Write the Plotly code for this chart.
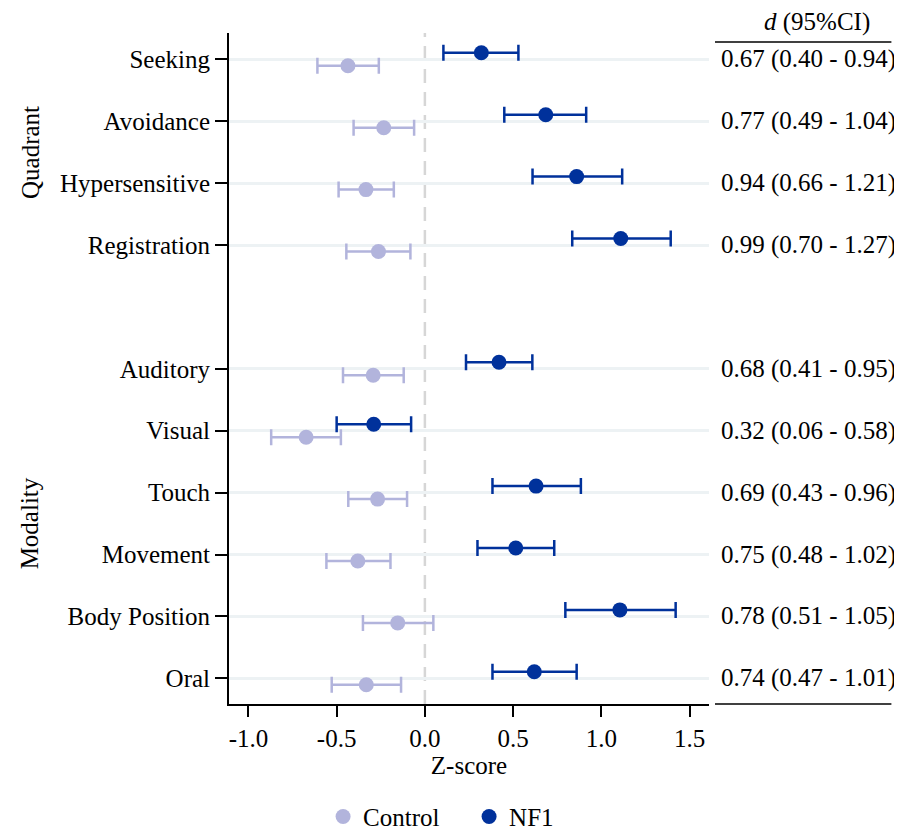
import plotly.graph_objects as go

# ---------------- data ----------------
quadrant = ["Seeking", "Avoidance", "Hypersensitive", "Registration"]
modality = ["Auditory", "Visual", "Touch", "Movement", "Body Position", "Oral"]

nf1_mean = [0.32, 0.685, 0.86, 1.11, 0.42, -0.29, 0.63, 0.515, 1.105, 0.62]
nf1_lo   = [0.105, 0.45, 0.61, 0.835, 0.233, -0.50, 0.383, 0.298, 0.796, 0.383]
nf1_hi   = [0.53, 0.914, 1.118, 1.393, 0.609, -0.078, 0.884, 0.733, 1.421, 0.86]

ctrl_mean = [-0.436, -0.233, -0.334, -0.263, -0.293, -0.673, -0.268, -0.380, -0.154, -0.332]
ctrl_lo   = [-0.609, -0.404, -0.489, -0.445, -0.464, -0.871, -0.434, -0.558, -0.351, -0.528]
ctrl_hi   = [-0.261, -0.061, -0.176, -0.082, -0.120, -0.476, -0.101, -0.195, 0.048, -0.135]

d_ci = ["0.67 (0.40 - 0.94)", "0.77 (0.49 - 1.04)", "0.94 (0.66 - 1.21)", "0.99 (0.70 - 1.27)",
        "0.68 (0.41 - 0.95)", "0.32 (0.06 - 0.58)", "0.69 (0.43 - 0.96)", "0.75 (0.48 - 1.02)",
        "0.78 (0.51 - 1.05)", "0.74 (0.47 - 1.01)"]

x_tickvals = [-1.0, -0.5, 0.0, 0.5, 1.0, 1.5]
x_ticktext = ["-1.0", "-0.5", "0.0", "0.5", "1.0", "1.5"]

# ---------------- layout helpers ----------------
categories = quadrant + modality
n_total = len(categories) + 1  # one blank row between groups
ypos = []
pos = n_total
for i, c in enumerate(categories):
    if i == len(quadrant):
        pos -= 1
    ypos.append(pos)
    pos -= 1

OFF = 0.105
NF1_COL = "#00319b"
CTRL_COL = "#b2b4dc"
FONT = "Times New Roman, Liberation Serif, serif"
FS = 25

fig = go.Figure()

fig.add_trace(go.Scatter(
    x=ctrl_mean, y=[p - OFF for p in ypos], mode="markers", name="Control",
    marker=dict(color=CTRL_COL, size=15),
    error_x=dict(type="data", symmetric=False,
                 array=[h - m for h, m in zip(ctrl_hi, ctrl_mean)],
                 arrayminus=[m - l for m, l in zip(ctrl_mean, ctrl_lo)],
                 color=CTRL_COL, thickness=2.5, width=8),
))
fig.add_trace(go.Scatter(
    x=nf1_mean, y=[p + OFF for p in ypos], mode="markers", name="NF1",
    marker=dict(color=NF1_COL, size=15),
    error_x=dict(type="data", symmetric=False,
                 array=[h - m for h, m in zip(nf1_hi, nf1_mean)],
                 arrayminus=[m - l for m, l in zip(nf1_mean, nf1_lo)],
                 color=NF1_COL, thickness=2.5, width=8),
))

# zero reference line
fig.add_shape(type="line", xref="x", yref="paper", x0=0, x1=0, y0=0, y1=1,
              line=dict(color="#d6d6d6", width=2.5, dash="14px,9px"), layer="below")

# right-hand d (95%CI) column
for p, t in zip(ypos, d_ci):
    fig.add_annotation(x=1.021, xref="paper", y=p, yref="y", text=t, showarrow=False,
                       xanchor="left", yanchor="middle", font=dict(family=FONT, size=FS, color="black"))
fig.add_annotation(x=1.225, xref="paper", y=1.016, yref="paper", text="<i>d</i> (95%CI)",
                   showarrow=False, xanchor="center", yanchor="middle",
                   font=dict(family=FONT, size=FS, color="black"))
fig.add_shape(type="line", xref="paper", yref="paper", x0=1.0125, x1=1.38, y0=0.9866, y1=0.9866,
              line=dict(color="black", width=1.3))
fig.add_shape(type="line", xref="paper", yref="paper", x0=1.0125, x1=1.38, y0=0.0, y1=0.0,
              line=dict(color="black", width=1.3))

# group labels
q_mid = (ypos[0] + ypos[len(quadrant) - 1]) / 2
m_mid = (ypos[len(quadrant)] + ypos[-1]) / 2
for lab, yy in [("Quadrant", q_mid), ("Modality", m_mid)]:
    fig.add_annotation(x=-0.415, xref="paper", y=yy, yref="y", text=lab, textangle=-90,
                       showarrow=False, xanchor="center", yanchor="middle",
                       font=dict(family=FONT, size=FS, color="black"))

fig.update_layout(
    width=894, height=822,
    margin=dict(l=221, r=193, t=25, b=126, autoexpand=False),
    plot_bgcolor="white", paper_bgcolor="white",
    font=dict(family=FONT, size=FS, color="black"),
    showlegend=True,
    legend=dict(orientation="h", x=0.196, xanchor="left", y=-0.168, yanchor="middle",
                font=dict(family=FONT, size=FS), itemwidth=30, tracegroupgap=0,
                entrywidth=101, entrywidthmode="pixels"),
)
fig.update_xaxes(range=[-1.11, 1.61], tickvals=x_tickvals, ticktext=x_ticktext, automargin=False,
                 showgrid=False, zeroline=False, showline=True, linecolor="black", linewidth=2,
                 ticks="outside", ticklen=11, tickwidth=2, tickcolor="black",
                 title=dict(text="Z-score", standoff=4, font=dict(family=FONT, size=FS)))
fig.update_yaxes(range=[0.585, 11.425], tickvals=ypos, ticktext=categories, automargin=False,
                 showgrid=True, gridcolor="#edf2f4", gridwidth=2.5, zeroline=False,
                 showline=True, linecolor="black", linewidth=2,
                 ticks="outside", ticklen=12, tickwidth=2, tickcolor="black")

fig.write_html("out.html")
